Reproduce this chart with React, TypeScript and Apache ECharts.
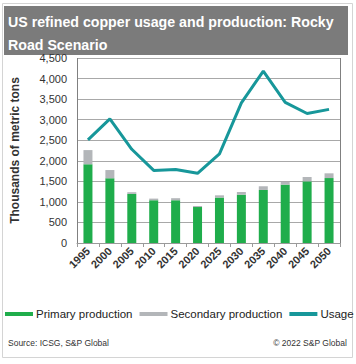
import React, { useEffect, useRef } from "react";
import * as echarts from "echarts";

const years = ["1995", "2000", "2005", "2010", "2015", "2020", "2025", "2030", "2035", "2040", "2045", "2050"];
const primaryProduction = [1915, 1575, 1195, 1040, 1040, 875, 1105, 1175, 1290, 1420, 1500, 1580];
const secondaryProduction = [345, 200, 40, 40, 50, 25, 55, 65, 90, 65, 105, 115];
const usage = [2510, 3020, 2280, 1765, 1790, 1695, 2170, 3410, 4180, 3420, 3150, 3250];
const yTicks = { min: 0, max: 4500, interval: 500 };

const FONT = "'Liberation Sans', Arial, sans-serif";

export default function App() {
  const ref = useRef<HTMLDivElement>(null);
  useEffect(() => {
    document.body.style.margin = "0";
    const chart = echarts.init(ref.current!, null, { renderer: "svg" });
    chart.setOption({
      animation: false,
      backgroundColor: "#ffffff",
      textStyle: { fontFamily: FONT },
      graphic: [
        { type: "rect", shape: { x: 2.5, y: 3.5, width: 350, height: 354 }, style: { fill: "none", stroke: "#d4d4d4", lineWidth: 1 }, z: -1 },
        { type: "rect", shape: { x: 4, y: 6, width: 344, height: 49 }, style: { fill: "#7b7b7b" } },
        {
          type: "text", left: 8, top: 10,
          style: {
            text: "US refined copper usage and production: Rocky\nRoad Scenario",
            fill: "#ffffff", font: `bold 14.2px ${FONT}`, lineHeight: 23,
          },
        },
        { type: "text", left: 8, top: 338, style: { text: "Source: ICSG, S&P Global", fill: "#333333", font: `8.5px ${FONT}` } },
        { type: "text", right: 9, top: 338, style: { text: "© 2022 S&P Global", fill: "#333333", font: `8.5px ${FONT}` } },
      ],
      grid: { left: 77, right: 16, top: 58, bottom: 121 },
      legend: {
        left: 5, top: 308, padding: 0, itemWidth: 28, itemHeight: 4, itemGap: 7, icon: "rect",
        textStyle: { fontSize: 11.5, color: "#222222", fontFamily: FONT, padding: [0, 0, 0, -2] },
        data: ["Primary production", "Secondary production", "Usage"],
      },
      xAxis: {
        type: "category",
        data: years,
        axisLine: { lineStyle: { color: "#9a9a9a" } },
        axisTick: { show: true, length: 4, lineStyle: { color: "#9a9a9a" } },
        axisLabel: { rotate: 45, fontSize: 11, fontWeight: "bold", color: "#333333", margin: 6, interval: 0 },
        splitLine: { show: true, interval: (i: number) => i === 6, lineStyle: { color: "#808080", width: 1 } },
      },
      yAxis: {
        type: "value",
        min: yTicks.min, max: yTicks.max, interval: yTicks.interval,
        name: "Thousands of metric tons",
        nameLocation: "middle",
        nameGap: 56,
        nameTextStyle: { fontSize: 12, fontWeight: "bold", color: "#333333" },
        axisLine: { show: false },
        axisTick: { show: false },
        axisLabel: { fontSize: 11, color: "#333333", margin: 10, formatter: (v: number) => v.toLocaleString("en-US") },
        splitLine: { lineStyle: { color: "#a8a8a8", width: 1 } },
      },
      series: [
        { name: "Primary production", type: "bar", stack: "p", barWidth: 9, data: primaryProduction, itemStyle: { color: "#1fad4b" } },
        { name: "Secondary production", type: "bar", stack: "p", barWidth: 9, data: secondaryProduction, itemStyle: { color: "#b3b6b9" } },
        { name: "Usage", type: "line", data: usage, symbol: "none", lineStyle: { color: "#17979a", width: 3 }, itemStyle: { color: "#17979a" } },
      ],
    });
    return () => chart.dispose();
  }, []);
  return <div ref={ref} style={{ position: "fixed", left: 0, top: 0, width: 356, height: 364 }} />;
}
